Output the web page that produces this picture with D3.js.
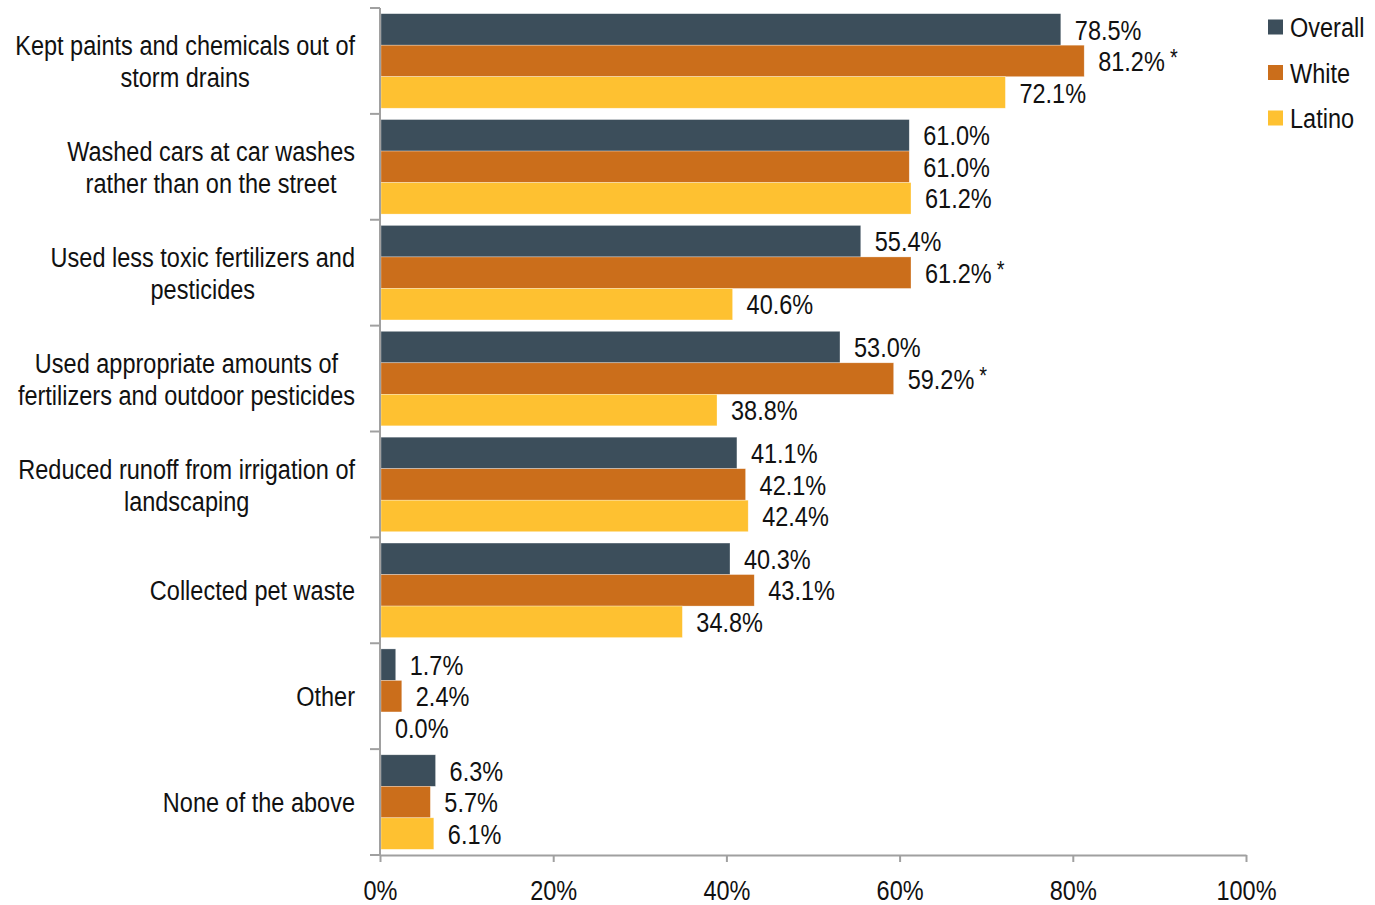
<!DOCTYPE html>
<html>
<head>
<meta charset="utf-8">
<script src="https://cdn.jsdelivr.net/npm/d3@7"></script>
<style>
  html, body { margin: 0; padding: 0; background: #fff; }
  svg text { font-family: "Liberation Sans", Arial, sans-serif; fill: #111; }
</style>
</head>
<body>
<svg id="chart" width="1375" height="905"></svg>
<script>
// Stormwater-friendly practices reported, by group
const categories = [
  ["Kept paints and chemicals out of", "storm drains"],
  ["Washed cars at car washes", "rather than on the street"],
  ["Used less toxic fertilizers and", "pesticides"],
  ["Used appropriate amounts of", "fertilizers and outdoor pesticides"],
  ["Reduced runoff from irrigation of", "landscaping"],
  ["Collected pet waste"],
  ["Other"],
  ["None of the above"]
];
const seriesNames = ["Overall", "White", "Latino"];
const overall = [78.5, 61.0, 55.4, 53.0, 41.1, 40.3, 1.7, 6.3];
const white   = [81.2, 61.0, 61.2, 59.2, 42.1, 43.1, 2.4, 5.7];
const latino  = [72.1, 61.2, 40.6, 38.8, 42.4, 34.8, 0.0, 6.1];
// significant difference markers on the White series
const whiteStar = [true, false, true, true, false, false, false, false];
const xTicks = [0, 20, 40, 60, 80, 100];
const colors = ["#3c4e5b", "#cb6e1b", "#fec131"];

const svg = d3.select("#chart");
const FS = 28;      // font size
const SX = 0.84;    // horizontal squeeze for a condensed look

// text placed at (x, y), squeezed horizontally around its anchor
function label(parent, x, y, str, anchor) {
  const g = parent.append("g").attr("transform", `translate(${x},${y}) scale(${SX},1)`);
  const t = g.append("text")
    .attr("x", 0).attr("y", 0).attr("dy", "0.36em")
    .attr("font-size", FS)
    .attr("text-anchor", anchor || "start")
    .text(str);
  return t;
}

const x = d3.scaleLinear().domain([0, 100]).range([380, 1246]);
const y = d3.scaleBand().domain(d3.range(categories.length)).range([8, 855]).padding(0);
const inner = d3.scaleBand().domain(d3.range(3)).range([0, y.bandwidth()]).paddingInner(0).paddingOuter(0.18);

const seriesValues = [overall, white, latino];

// bars and value labels
const groups = svg.append("g").selectAll("g")
  .data(categories.map((c, i) => i))
  .join("g")
  .attr("transform", i => `translate(0,${y(i)})`);

groups.each(function(i) {
  const g = d3.select(this);
  seriesValues.forEach((vals, s) => {
    const v = vals[i];
    if (v > 0) {
      g.append("rect")
        .attr("x", x(0) + 1)
        .attr("y", inner(s))
        .attr("width", x(v) - x(0))
        .attr("height", inner.bandwidth())
        .attr("fill", colors[s])
        .attr("stroke", "#ffffff")
        .attr("stroke-opacity", 0.5)
        .attr("stroke-width", 0.6);
    }
    const t = label(g, x(v) + 15, inner(s) + inner.bandwidth() / 2, v.toFixed(1) + "%");
    if (s === 1 && whiteStar[i]) {
      t.append("tspan").attr("font-size", FS * 0.85).attr("dx", 6).attr("dy", -5).text("*");
    }
  });
});

// y axis: line plus outward ticks at category boundaries
const yAxis = svg.append("g").attr("stroke", "#a0a0a0").attr("stroke-width", 2);
yAxis.append("line").attr("x1", x(0)).attr("x2", x(0)).attr("y1", y.range()[0]).attr("y2", y.range()[1]);
const bounds = d3.range(categories.length + 1).map(i => i < categories.length ? y(i) : y.range()[1]);
yAxis.selectAll("line.tick").data(bounds).join("line")
  .attr("class", "tick")
  .attr("x1", x(0) - 10).attr("x2", x(0))
  .attr("y1", d => d).attr("y2", d => d);

// x axis
const xAxisG = svg.append("g")
  .attr("transform", `translate(0,${y.range()[1]})`)
  .call(d3.axisBottom(x).tickValues(xTicks).tickSize(7).tickSizeOuter(0).tickPadding(18).tickFormat(d => d + "%"));
xAxisG.select(".domain").attr("stroke", "#a0a0a0").attr("stroke-width", 2);
xAxisG.selectAll(".tick line").attr("stroke", "#a0a0a0").attr("stroke-width", 2);
xAxisG.selectAll(".tick text")
  .attr("font-size", FS).attr("fill", "#111")
  .attr("transform", `scale(${SX},1)`)
  .style("font-family", '"Liberation Sans", Arial, sans-serif');

// category labels: block right-aligned, lines centered within block
const labelRight = 355;
const lineH = 32;
categories.forEach((lines, i) => {
  const g = svg.append("g");
  const cy = y(i) + y.bandwidth() / 2;
  const texts = lines.map((l, k) =>
    label(g, 0, cy + (k - (lines.length - 1) / 2) * lineH, l, "middle"));
  const maxW = d3.max(texts, t => t.node().getComputedTextLength()) * SX;
  const cx = labelRight - maxW / 2;
  texts.forEach((t, k) => {
    const py = cy + (k - (lines.length - 1) / 2) * lineH;
    d3.select(t.node().parentNode).attr("transform", `translate(${cx},${py}) scale(${SX},1)`);
  });
});

// legend
const legend = svg.append("g").attr("transform", "translate(1268,27)");
seriesNames.forEach((n, s) => {
  const g = legend.append("g").attr("transform", `translate(0,${s * 45.5})`);
  g.append("rect").attr("x", 0).attr("y", -7.5).attr("width", 15).attr("height", 15).attr("fill", colors[s]);
  label(g, 22, 0, n);
});
</script>
</body>
</html>
